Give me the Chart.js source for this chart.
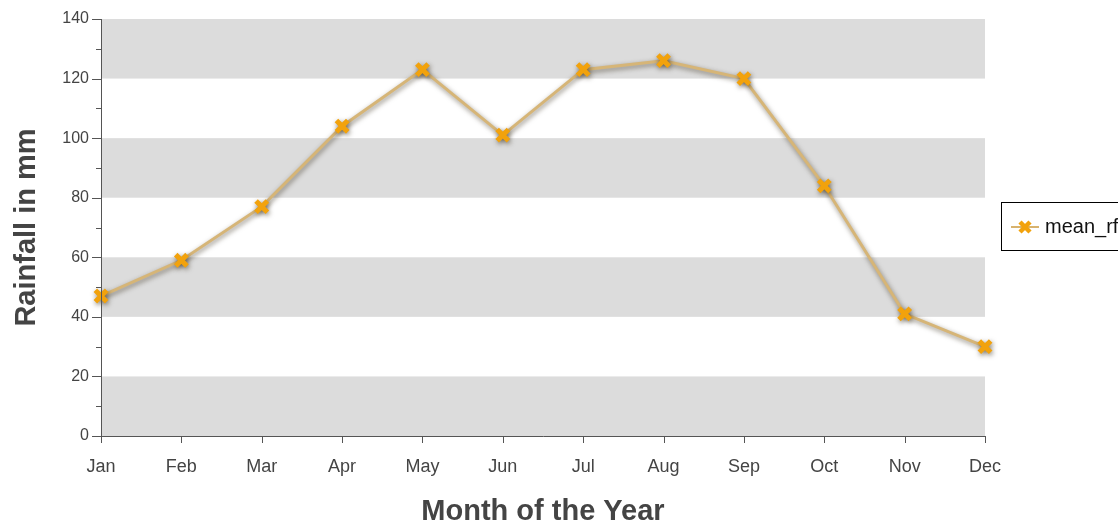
<!DOCTYPE html>
<html>
<head>
<meta charset="utf-8">
<script src="https://cdn.jsdelivr.net/npm/chart.js@4/dist/chart.umd.min.js"></script>
<style>
    html, body { margin: 0; padding: 0; background: #fff; }
    #wrap { width: 1118px; height: 524px; position: relative; }
</style>
</head>
<body>
<div id="wrap"><canvas id="rain"></canvas></div>
<script>
const months = ['Jan', 'Feb', 'Mar', 'Apr', 'May', 'Jun', 'Jul', 'Aug', 'Sep', 'Oct', 'Nov', 'Dec'];
const meanRf = [47, 59, 77, 104, 123, 101, 123, 126, 120, 84, 41, 30];
const bandRanges = [[0, 20], [40, 60], [80, 100], [120, 140]];
const seriesName = 'mean_rf';

const AXIS = '#555';
const TEXT = '#444';
const MARK = '#f2a20c';
const FONT = '"Liberation Sans", Arial, sans-serif';

// grey bands behind the plot
const bands = {
    id: 'bands',
    beforeDatasetsDraw(chart) {
        const { ctx, chartArea: a, scales: { y } } = chart;
        ctx.save();
        ctx.fillStyle = '#dcdcdc';
        bandRanges.forEach(([lo, hi]) => {
            const y1 = y.getPixelForValue(hi), y0 = y.getPixelForValue(lo);
            ctx.fillRect(a.left, y1, a.right - a.left, y0 - y1);
        });
        ctx.restore();
    }
};

// soft shadow under the line
const shadow = {
    id: 'shadow',
    beforeDatasetDraw(chart) {
        const ctx = chart.ctx;
        ctx.save();
        ctx.shadowColor = 'rgba(40,30,10,0.55)';
        ctx.shadowBlur = 5;
        ctx.shadowOffsetX = 1;
        ctx.shadowOffsetY = 2;
    },
    afterDatasetDraw(chart) {
        chart.ctx.restore();
    }
};

// axis lines, tick marks and legend box
const axes = {
    id: 'axes',
    afterDraw(chart) {
        const { ctx, chartArea: a, scales: { x, y } } = chart;
        ctx.save();
        ctx.strokeStyle = AXIS;
        ctx.lineWidth = 1;
        ctx.beginPath();
        ctx.moveTo(a.left + 0.5, a.top);
        ctx.lineTo(a.left + 0.5, a.bottom + 0.5);
        ctx.lineTo(a.right, a.bottom + 0.5);
        y.ticks.forEach(t => {
            const py = Math.round(y.getPixelForValue(t.value)) + 0.5;
            const len = t.value % 20 === 0 ? 9 : 5;
            ctx.moveTo(a.left - len, py);
            ctx.lineTo(a.left, py);
        });
        months.forEach((m, i) => {
            const px = Math.round(x.getPixelForValue(i)) + 0.5;
            ctx.moveTo(px, a.bottom);
            ctx.lineTo(px, a.bottom + 7);
        });
        ctx.stroke();

        // legend
        const lx = 1001, ly = 202;
        ctx.strokeStyle = '#000';
        ctx.strokeRect(lx + 0.5, ly + 0.5, 140, 48);
        const cy = ly + 25;
        ctx.strokeStyle = '#d8b36e';
        ctx.lineWidth = 2;
        ctx.beginPath();
        ctx.moveTo(lx + 10, cy);
        ctx.lineTo(lx + 38, cy);
        ctx.stroke();
        ctx.strokeStyle = MARK;
        ctx.lineWidth = 4.5;
        ctx.beginPath();
        const cx = lx + 24, r = 5;
        ctx.moveTo(cx - r, cy - r); ctx.lineTo(cx + r, cy + r);
        ctx.moveTo(cx + r, cy - r); ctx.lineTo(cx - r, cy + r);
        ctx.stroke();
        ctx.fillStyle = '#111';
        ctx.font = '20px ' + FONT;
        ctx.textBaseline = 'middle';
        ctx.fillText(seriesName, lx + 44, cy);
        ctx.restore();
    }
};

new Chart(document.getElementById('rain'), {
    type: 'line',
    data: {
        labels: months,
        datasets: [{
            label: seriesName,
            data: meanRf,
            borderColor: '#d6b577',
            borderWidth: 3,
            tension: 0,
            pointStyle: 'crossRot',
            pointRadius: 8,
            pointHoverRadius: 8,
            pointBorderWidth: 5,
            pointBorderColor: MARK,
            pointBackgroundColor: MARK
        }]
    },
    options: {
        responsive: true,
        maintainAspectRatio: false,
        animation: false,
        events: [],
        layout: { padding: { top: 19, right: 133, left: 0, bottom: 0 } },
        plugins: { legend: { display: false }, tooltip: { enabled: false } },
        scales: {
            x: {
                offset: false,
                grid: { display: false, drawTicks: false },
                border: { display: false },
                ticks: {
                    color: TEXT, padding: 20, maxRotation: 0,
                    font: { family: FONT, size: 18 }
                },
                title: {
                    display: true, text: 'Month of the Year', color: TEXT,
                    font: { family: FONT, size: 29, weight: 'bold', lineHeight: 1 },
                    padding: { top: 0, bottom: -2 }
                },
                afterFit(s) {
                    s.height = 88;
                    s.paddingLeft = 0;
                    s.paddingRight = 0;
                }
            },
            y: {
                min: 0, max: 140,
                grid: { display: false, drawTicks: false },
                border: { display: false },
                ticks: {
                    stepSize: 10, color: TEXT, padding: 12, autoSkip: false,
                    font: { family: FONT, size: 16 },
                    callback: v => (v % 20 === 0 ? v : '')
                },
                title: {
                    display: true, text: 'Rainfall in mm', color: TEXT,
                    font: { family: FONT, size: 29, weight: 'bold', lineHeight: 1 },
                    padding: { top: 12, bottom: 0 }
                },
                afterFit(s) {
                    s.width = 101;
                    s.paddingTop = 0;
                    s.paddingBottom = 0;
                }
            }
        }
    },
    plugins: [bands, shadow, axes]
});
</script>
</body>
</html>
